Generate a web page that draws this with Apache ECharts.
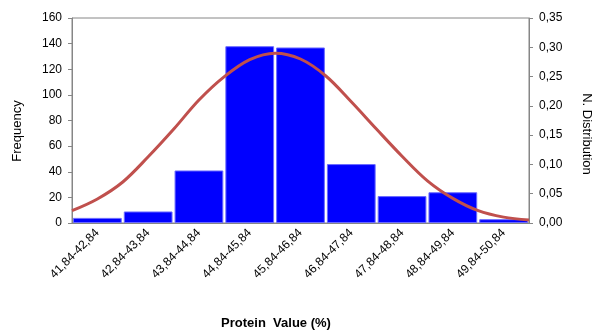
<!DOCTYPE html>
<html>
<head>
<meta charset="utf-8">
<script src="https://cdn.jsdelivr.net/npm/echarts@6/dist/echarts.min.js"></script>
<style>html,body{margin:0;padding:0;background:#fff;}#c{width:596px;height:331px;}</style>
</head>
<body>
<div id="c"></div>
<script>
var categories = ['41,84-42,84','42,84-43,84','43,84-44,84','44,84-45,84','45,84-46,84','46,84-47,84','47,84-48,84','48,84-49,84','49,84-50,84'];
var frequency = [4, 9, 41, 138, 137, 46, 21, 24, 3];
// normal distribution curve read at half-category steps, left edge to right edge
var curvePos = [0,1,2,3,4,5,6,7,8,9,10,11,12,13,14,15,16,17,18];
var curveVal = [0.021,0.041,0.070,0.113,0.160,0.210,0.250,0.279,0.290,0.280,0.251,0.207,0.160,0.114,0.072,0.042,0.021,0.010,0.005];
var leftTicks = [0, 160, 20];
var rightTicks = [0, 0.35, 0.05];

var FONT = 'Liberation Sans';
var chart = echarts.init(document.getElementById('c'), null, {renderer: 'canvas'});
chart.setOption({
  animation: false,
  textStyle: {fontFamily: FONT},
  grid: {left: 72, right: 67, top: 18, bottom: 108, show: true, borderColor: '#868686', borderWidth: 1},
  xAxis: [{
    type: 'category', data: categories, boundaryGap: true,
    axisLine: {lineStyle: {color: '#868686'}},
    axisTick: {length: 4, lineStyle: {color: '#868686'}},
    axisLabel: {rotate: 45, color: '#000', fontSize: 12, fontFamily: FONT, margin: 8, interval: 0}
  }, {
    type: 'value', min: 0, max: 18, show: false
  }],
  yAxis: [{
    type: 'value', min: leftTicks[0], max: leftTicks[1], interval: leftTicks[2],
    axisLine: {show: true, lineStyle: {color: '#868686'}},
    axisTick: {show: true, length: 4, lineStyle: {color: '#868686'}},
    splitLine: {show: false},
    axisLabel: {color: '#000', fontSize: 12, fontFamily: FONT, margin: 10}
  }, {
    type: 'value', min: rightTicks[0], max: rightTicks[1], interval: rightTicks[2], position: 'right',
    axisLine: {show: true, lineStyle: {color: '#868686'}},
    axisTick: {show: true, length: 4, lineStyle: {color: '#868686'}},
    splitLine: {show: false},
    axisLabel: {color: '#000', fontSize: 12, fontFamily: FONT, margin: 10,
      formatter: function (v) { return v.toFixed(2).replace('.', ','); }}
  }],
  series: [{
    type: 'bar', data: frequency, xAxisIndex: 0, yAxisIndex: 0,
    barCategoryGap: '4%',
    itemStyle: {color: '#0000FF', borderColor: '#6b6bff', borderWidth: 1}
  }, {
    type: 'line', xAxisIndex: 1, yAxisIndex: 1, smooth: 0.35, showSymbol: false,
    data: curvePos.map(function (p, i) { return [p, curveVal[i]]; }),
    lineStyle: {color: '#C0504D', width: 3}, z: 5
  }],
  graphic: [{
    type: 'text', rotation: Math.PI / 2, x: 17, y: 131,
    style: {text: 'Frequency', font: '13px "' + FONT + '"', fill: '#000', textAlign: 'center', textVerticalAlign: 'middle'}
  }, {
    type: 'text', rotation: -Math.PI / 2, x: 587, y: 134,
    style: {text: 'N. Distribution', font: '13px "' + FONT + '"', fill: '#000', textAlign: 'center', textVerticalAlign: 'middle'}
  }, {
    type: 'text', x: 276, y: 323,
    style: {text: 'Protein  Value (%)', font: 'bold 13px "' + FONT + '"', fill: '#000', textAlign: 'center', textVerticalAlign: 'middle'}
  }]
});
</script>
</body>
</html>
